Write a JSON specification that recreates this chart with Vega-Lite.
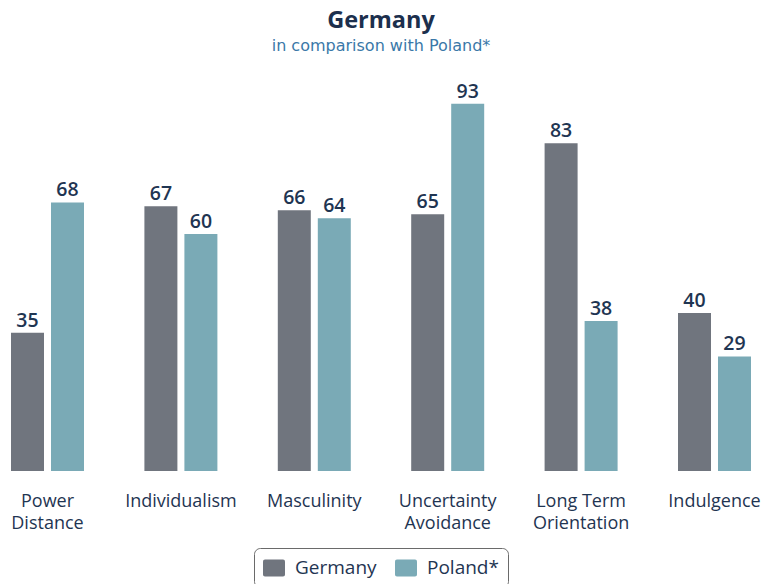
{
  "$schema": "https://vega.github.io/schema/vega-lite/v6.json",
  "autosize": "none",
  "width": 752,
  "height": 395,
  "padding": {"left": 5, "top": 76, "right": 7, "bottom": 113},
  "background": "white",
  "config": {
    "view": {"stroke": null},
    "font": "Open Sans"
  },
  "title": {
    "text": "Germany",
    "subtitle": "in comparison with Poland*",
    "anchor": "middle",
    "frame": "group",
    "font": "Open Sans",
    "fontSize": 23.5,
    "fontWeight": "bold",
    "color": "#1c2f4d",
    "subtitleFont": "DejaVu Sans",
    "subtitleFontSize": 16,
    "subtitleColor": "#3a78a8",
    "subtitlePadding": 6,
    "offset": 22
  },
  "data": {
    "values": [
      {"dimension": "Power Distance", "country": "Germany", "value": 35},
      {"dimension": "Power Distance", "country": "Poland*", "value": 68},
      {"dimension": "Individualism", "country": "Germany", "value": 67},
      {"dimension": "Individualism", "country": "Poland*", "value": 60},
      {"dimension": "Masculinity", "country": "Germany", "value": 66},
      {"dimension": "Masculinity", "country": "Poland*", "value": 64},
      {"dimension": "Uncertainty Avoidance", "country": "Germany", "value": 65},
      {"dimension": "Uncertainty Avoidance", "country": "Poland*", "value": 93},
      {"dimension": "Long Term Orientation", "country": "Germany", "value": 83},
      {"dimension": "Long Term Orientation", "country": "Poland*", "value": 38},
      {"dimension": "Indulgence", "country": "Germany", "value": 40},
      {"dimension": "Indulgence", "country": "Poland*", "value": 29}
    ]
  },
  "encoding": {
    "x": {
      "field": "dimension",
      "type": "nominal",
      "sort": ["Power Distance", "Individualism", "Masculinity", "Uncertainty Avoidance", "Long Term Orientation", "Indulgence"],
      "scale": {"paddingInner": 0.4528, "paddingOuter": 0.045},
      "axis": {
        "title": null,
        "labelAngle": 0,
        "domain": false,
        "ticks": false,
        "labelPadding": 21,
        "labelFont": "Open Sans",
        "labelFontSize": 18,
        "labelFontWeight": 500,
        "labelColor": "#1f3552",
        "labelLineHeight": 22,
        "labelBaseline": "top",
        "labelExpr": "datum.label == 'Power Distance' ? ['Power', 'Distance'] : datum.label == 'Uncertainty Avoidance' ? ['Uncertainty', 'Avoidance'] : datum.label == 'Long Term Orientation' ? ['Long Term', 'Orientation'] : datum.label"
      }
    },
    "xOffset": {
      "field": "country",
      "type": "nominal",
      "sort": ["Germany", "Poland*"],
      "scale": {"paddingInner": 0.175, "paddingOuter": 0}
    },
    "y": {
      "field": "value",
      "type": "quantitative",
      "scale": {"domain": [0, 100], "nice": false},
      "axis": null
    }
  },
  "layer": [
    {
      "mark": {"type": "bar"},
      "encoding": {
        "color": {
          "field": "country",
          "type": "nominal",
          "scale": {"domain": ["Germany", "Poland*"], "range": ["#70757e", "#7aaab6"]},
          "legend": {
            "title": null,
            "orient": "none",
            "direction": "horizontal",
            "legendX": 249,
            "legendY": 472,
            "padding": 9,
            "strokeColor": "#6a6a6a",
            "fillColor": "white",
            "cornerRadius": 6,
            "symbolType": "M-0.82,-0.77H0.82A0.18,0.18,0,0,1,1,-0.59V0.59A0.18,0.18,0,0,1,0.82,0.77H-0.82A0.18,0.18,0,0,1,-1,0.59V-0.59A0.18,0.18,0,0,1,-0.82,-0.77Z",
            "symbolSize": 484,
            "symbolStrokeWidth": 0,
            "symbolOpacity": 1,
            "labelFont": "Open Sans",
            "labelFontSize": 19,
            "labelFontWeight": 500,
            "labelColor": "#1f3552",
            "labelOffset": 10,
            "columnPadding": 18
          }
        }
      }
    },
    {
      "mark": {
        "type": "text",
        "baseline": "alphabetic",
        "dy": -6,
        "font": "Open Sans",
        "fontSize": 19.5,
        "fontWeight": 600,
        "color": "#1f3552"
      },
      "encoding": {
        "text": {"field": "value", "type": "quantitative"}
      }
    }
  ]
}
